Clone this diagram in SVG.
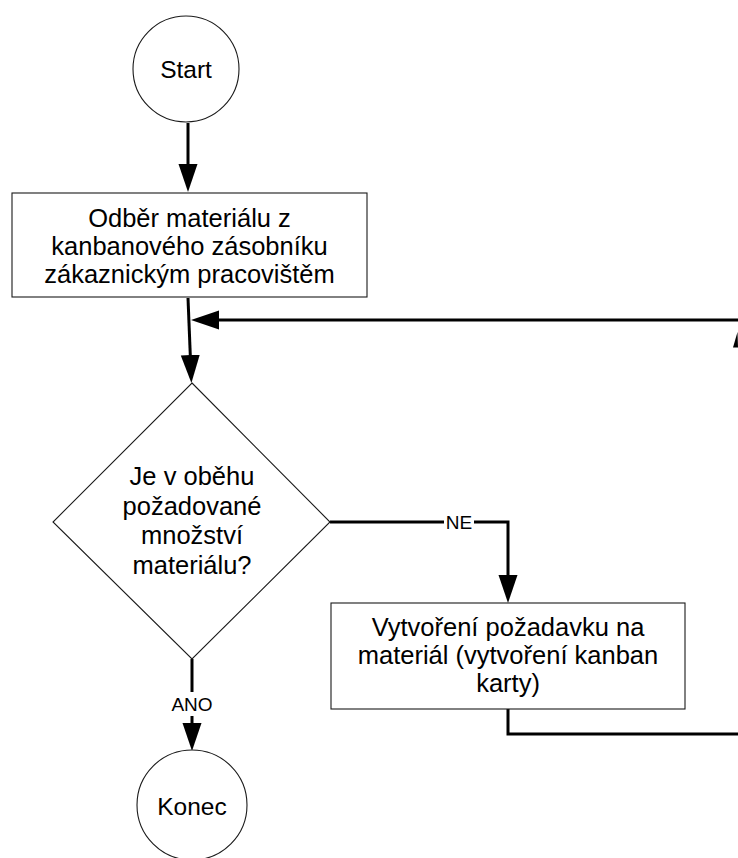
<svg xmlns="http://www.w3.org/2000/svg" width="738" height="858" viewBox="0 0 738 858">
  <style>
    .shape { fill: #ffffff; stroke: #1a1a1a; stroke-width: 1.1; }
    .label { font-family: "Liberation Sans", Arial, sans-serif; font-size: 25.5px; fill: #000000; text-anchor: middle; }
    .term { font-family: "Liberation Sans", Arial, sans-serif; font-size: 24.5px; fill: #000000; text-anchor: middle; }
    .edge-label { font-family: "Liberation Sans", Arial, sans-serif; font-size: 19px; fill: #000000; text-anchor: middle; }
    .conn { fill: none; stroke: #000000; stroke-width: 3; marker-end: url(#arrow); }
  </style>
  <defs>
    <marker id="arrow" markerUnits="userSpaceOnUse" markerWidth="30" markerHeight="20" refX="18" refY="9.5" orient="auto">
      <path d="M0,0 L28,9.5 L0,19 Z" fill="#000000"/>
    </marker>
  </defs>

  <rect width="738" height="858" fill="#ffffff"/>

  <!-- connectors -->
  <g id="connectors">
    <path class="conn" d="M188,123 L188,182"/>
    <path class="conn" d="M188,298 L191,373"/>
    <path class="conn" d="M508,709 L508,734 L745,734 L745,320 L201,320"/>
    <polygon points="737.5,332 733,347.5 738,347.5" fill="#000000"/>
    <path class="conn" d="M330,522 L508,522 L508,593"/>
    <path class="conn" d="M192,659 L192,741"/>
    <rect x="444" y="511" width="30" height="22" fill="#ffffff"/>
    <text class="edge-label" x="459" y="529">NE</text>
    <rect x="171" y="692" width="42" height="24" fill="#ffffff"/>
    <text class="edge-label" x="192" y="711">ANO</text>
  </g>

  <g id="start">
    <circle class="shape" cx="186" cy="69" r="53"/>
    <text class="term" x="186" y="78">Start</text>
  </g>

  <g id="odber">
    <rect class="shape" x="12" y="193" width="355" height="104"/>
    <text class="label" x="189.5" y="227">Odběr materiálu z</text>
    <text class="label" x="189.5" y="255">kanbanového zásobníku</text>
    <text class="label" x="189.5" y="283">zákaznickým pracovištěm</text>
  </g>

  <g id="decision">
    <polygon class="shape" points="192,383 330,522 192,659 53,522"/>
    <text class="label" x="192" y="485">Je v oběhu</text>
    <text class="label" x="192" y="514.5">požadované</text>
    <text class="label" x="192" y="544">množství</text>
    <text class="label" x="192" y="574">materiálu?</text>
  </g>

  <g id="pozadavek">
    <rect class="shape" x="331" y="603" width="354" height="106"/>
    <text class="label" x="508" y="636">Vytvoření požadavku na</text>
    <text class="label" x="508" y="664">materiál (vytvoření kanban</text>
    <text class="label" x="508" y="692">karty)</text>
  </g>

  <g id="konec">
    <circle class="shape" cx="192" cy="805" r="55"/>
    <text class="term" x="192" y="815">Konec</text>
  </g>
</svg>
